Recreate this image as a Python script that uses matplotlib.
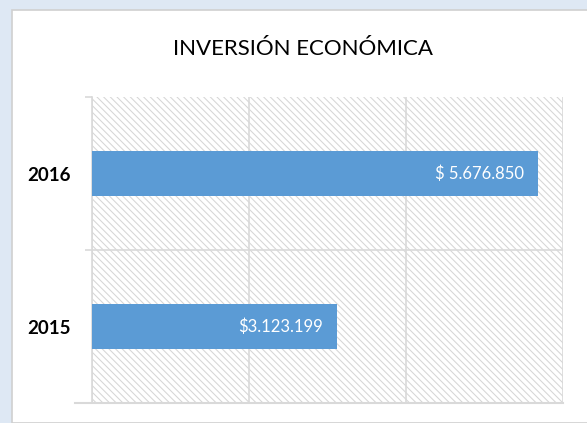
import matplotlib.pyplot as plt
from matplotlib.patches import Rectangle

years = ["2015", "2016"]
values = [3123199, 5676850]
value_labels = ["$3.123.199", "$ 5.676.850"]
x_ticks = [0, 2000000, 4000000, 6000000]

plt.rcParams["font.family"] = ["Lato", "DejaVu Sans"]
plt.rcParams["hatch.linewidth"] = 0.75

fig = plt.figure(figsize=(5.87, 4.23), dpi=100, facecolor="#dee8f4")
W, H = 587, 423

# white chart panel
panel = Rectangle((12 / W, 0), 1, 1 - 10 / H, transform=fig.transFigure,
                  facecolor="white", edgecolor="#d0d0d0", lw=1.2, zorder=-1)
fig.add_artist(panel)

ax = fig.add_axes([92 / W, 1 - 403 / H, (563 - 92) / W, (403 - 97) / H])
ax.set_zorder(1)
ax.set_facecolor("white")
ax.add_patch(Rectangle((0, 0), 1, 1, transform=ax.transAxes, facecolor="white",
                       edgecolor="#d6d6d6", lw=0, hatch="\\\\\\\\\\", zorder=0))

pos = [0, 1]
bars = ax.barh(pos, values, height=0.29, color="#5b9bd5", zorder=3)
for b, lab in zip(bars, value_labels):
    ax.text(b.get_width() - 180000, b.get_y() + b.get_height() / 2, lab,
            ha="right", va="center", color="white", fontsize=12, zorder=4)

ax.set_xlim(0, 6000000)
ax.set_ylim(-0.5, 1.5)
ax.set_xticks(x_ticks)
ax.set_xticklabels([])
ax.tick_params(axis="x", length=0)
ax.grid(axis="x", color="#d9d9d9", lw=1.2, zorder=1)

ax.set_yticks([-0.5, 0.5, 1.5], minor=False)
ax.set_yticklabels([])
ax.set_yticks(pos, minor=True)
ax.set_yticklabels(years, minor=True, fontsize=13.5, fontweight="bold")
ax.tick_params(axis="y", which="major", length=5, color="#d9d9d9", width=1.2)
ax.tick_params(axis="y", which="minor", length=0, pad=15)
ax.axhline(0.5, color="#d9d9d9", lw=1.2, zorder=1)

for s in ["top", "right"]:
    ax.spines[s].set_visible(False)
ax.spines["left"].set_color("#d9d9d9")
ax.spines["bottom"].set_color("#d9d9d9")
ax.spines["left"].set_linewidth(1.2)
ax.spines["bottom"].set_linewidth(1.5)
ax.spines["bottom"].set_bounds(-220000, 6000000)
ax.spines["bottom"].set_zorder(5)

fig.text(303 / W, 1 - 49 / H, "INVERSIÓN ECONÓMICA", ha="center", va="center",
         fontsize=16)

fig.savefig("out.png", dpi=100, facecolor=fig.get_facecolor())
